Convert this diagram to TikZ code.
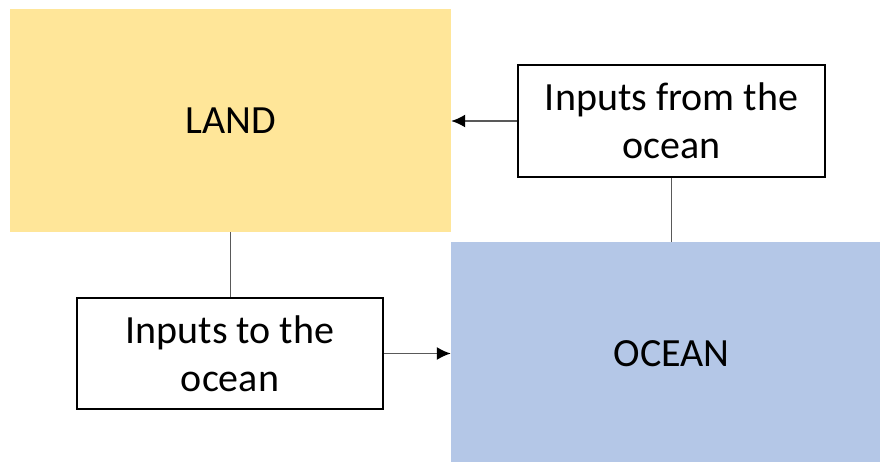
\documentclass[tikz,border=0pt]{standalone}
\usepackage{fontspec}
\setmainfont{Carlito}
\usepackage{tikz}
\usetikzlibrary{arrows.meta}
\definecolor{landfill}{HTML}{FFE699}
\definecolor{oceanfill}{HTML}{B4C7E7}

\begin{document}
\begin{tikzpicture}[x=1pt, y=-1pt,
        area/.style={inner sep=0, minimum width=441pt, minimum height=223pt,
            font=\fontsize{40}{48}\selectfont},
        inputbox/.style={draw, line width=2pt, inner sep=0, align=center,
            font=\fontsize{40}{48}\selectfont},
        link/.style={draw=black!65, line width=1.6pt},
        tip/.style={-{Latex[length=14pt, width=13pt, black]}}]
        \useasboundingbox (0,0) rectangle (880,461);

        \node[area, fill=landfill] (land) at (230.5, 120.5) {LAND};
        \node[area, fill=oceanfill] (ocean) at (671.5, 353.5) {OCEAN};
        \node[inputbox, minimum width=307pt, minimum height=112pt] (fromocean) at (671.5, 121) {Inputs from the\\ocean};
        \node[inputbox, minimum width=306pt, minimum height=111pt] (toocean) at (230, 353.5) {Inputs to the\\ocean};

        \draw[link] (land.south) -- (land.south |- toocean.north);
        \draw[link, tip] (toocean.east) -- (ocean.west |- toocean.east);
        \draw[link] (fromocean.south) -- (fromocean.south |- ocean.north);
        \draw[link, tip] (fromocean.west) -- (land.east |- fromocean.west);
    \end{tikzpicture}
\end{document}
